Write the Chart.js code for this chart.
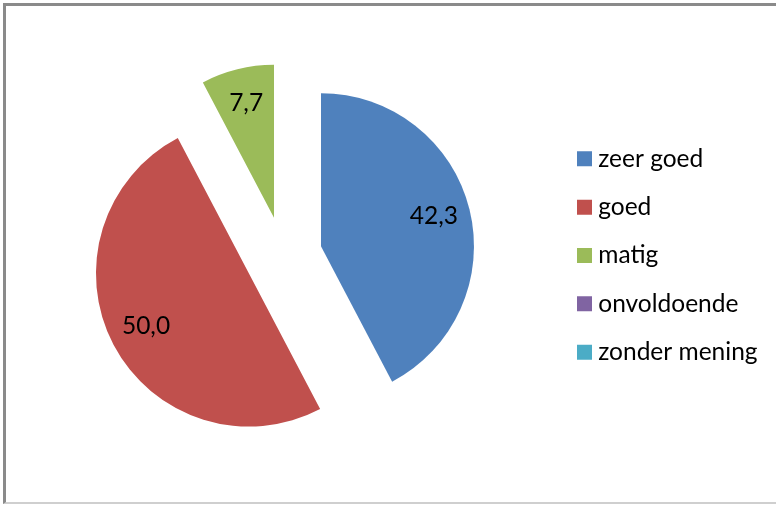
<!DOCTYPE html>
<html>
<head>
<meta charset="utf-8">
<script src="https://cdn.jsdelivr.net/npm/chart.js@4"></script>
<style>
  html, body { margin: 0; padding: 0; background: #ffffff; }
  #wrap { position: relative; width: 776px; height: 508px; overflow: hidden; background: #ffffff; }
  #frame { position: absolute; left: 3px; top: 3px; width: 800px; height: 501px;
           border-left: 3px solid #8a8a8a; border-top: 3px solid #8a8a8a;
           border-bottom: 2px solid #cfcfcf; box-sizing: border-box; }
  #box { position: absolute; left: 0; top: 0; width: 776px; height: 508px; }
</style>
</head>
<body>
<div id="wrap">
  <div id="frame"></div>
  <div id="box"><canvas id="c"></canvas></div>
</div>
<script>
// ---- data ----
const categories = ['zeer goed', 'goed', 'matig', 'onvoldoende', 'zonder mening'];
const percentages = [42.3, 50.0, 7.7, 0, 0];
const sliceColors = ['#4F81BD', '#C0504D', '#9BBB59', '#8064A2', '#4BACC6'];

const fmt = v => v.toFixed(1).replace('.', ',');

// every slice is pulled out by the same distance (px), as in the original
const EXPLODE = 38.8;

class ExplodedArc extends Chart.ArcElement {
  static id = 'explodedArc';
  draw(ctx) {
    const half = (this.startAngle + this.endAngle) / 2;
    ctx.save();
    ctx.translate(Math.cos(half) * EXPLODE, Math.sin(half) * EXPLODE);
    super.draw(ctx);
    ctx.restore();
  }
}
class ExplodedPie extends Chart.PieController {
  static id = 'explodedPie';
  static defaults = { dataElementType: 'explodedArc' };
}
Chart.register(ExplodedArc, ExplodedPie);

const FONT = 'Lato';
const FS = 24.5;
const LEG_PAD = 48.33 - FS;

// measure legend text to place the legend
const mctx = document.createElement('canvas').getContext('2d');
mctx.font = FS + 'px ' + FONT;
const tw = Math.max(...categories.map(t => mctx.measureText(t).width));
const legendW = LEG_PAD + 3 + FS / 2 + tw + 10;
const legendLeft = 577 + 6 - LEG_PAD;
const centerX = 283.3;
const padLeft = 2 * centerX - legendLeft;
const padRight = Math.max(0, 776 - legendLeft - legendW);

const valueLabels = {
  id: 'valueLabels',
  afterDatasetsDraw(chart, args, opts) {
    const ctx = chart.ctx;
    const meta = chart.getDatasetMeta(0);
    const ds = chart.data.datasets[0].data;
    ctx.save();
    ctx.font = opts.size + 'px ' + FONT;
    ctx.fillStyle = '#000';
    ctx.textAlign = 'center';
    ctx.textBaseline = 'middle';
    meta.data.forEach((arc, i) => {
      const v = ds[i];
      if (!v) return;
      const p = arc.getProps(['x', 'y', 'startAngle', 'endAngle', 'outerRadius'], true);
      const half = (p.startAngle + p.endAngle) / 2;
      const r = EXPLODE + opts.radius * p.outerRadius;
      ctx.fillText(fmt(v), p.x + Math.cos(half) * r, p.y + Math.sin(half) * r - 2);
    });
    ctx.restore();
  }
};

new Chart(document.getElementById('c'), {
  type: 'explodedPie',
  data: {
    labels: categories,
    datasets: [{
      data: percentages,
      backgroundColor: sliceColors,
      borderWidth: 0,
      offset: 0,
      hoverOffset: 0
    }]
  },
  options: {
    responsive: true,
    maintainAspectRatio: false,
    animation: false,
    events: [],
    devicePixelRatio: 1,
    layout: { padding: { left: padLeft, right: padRight, top: 102.5, bottom: 99.5 } },
    plugins: {
      tooltip: { enabled: false },
      valueLabels: { radius: 0.76, size: FS },
      legend: {
        position: 'right',
        align: 'center',
        labels: {
          font: { family: FONT, size: FS },
          color: '#000',
          boxWidth: 3,
          boxHeight: 3,
          padding: LEG_PAD,
          generateLabels(chart) {
            const items = Chart.overrides.pie.plugins.legend.labels.generateLabels(chart);
            return items.map(it => Object.assign({}, it, {
              lineWidth: 12, strokeStyle: it.fillStyle, lineJoin: 'miter', hidden: false
            }));
          }
        }
      }
    }
  },
  plugins: [valueLabels]
});
</script>
</body>
</html>
